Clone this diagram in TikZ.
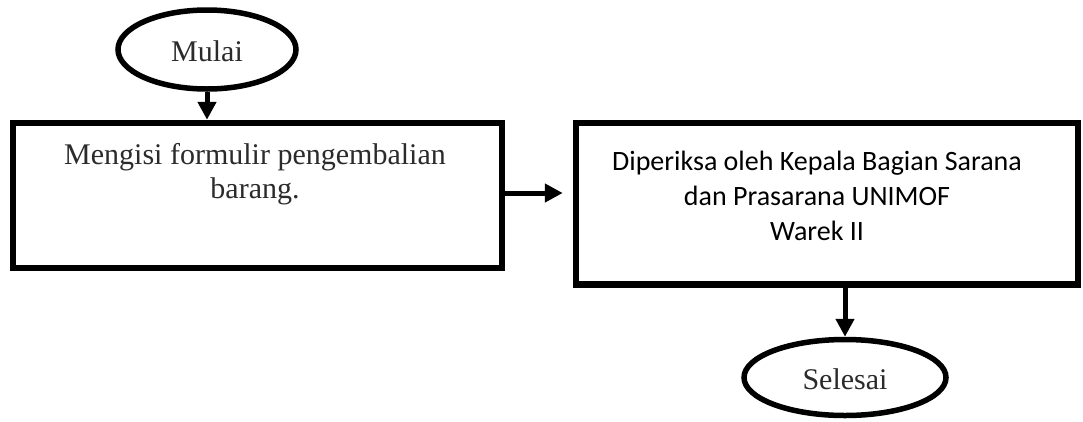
\documentclass[tikz,border=0pt]{standalone}
\usepackage{fontspec}
\setmainfont{Liberation Serif}
\newfontfamily\carlitofont{Carlito}
\usetikzlibrary{shapes.geometric,arrows.meta}
\definecolor{txtgray}{HTML}{2B2B2B}
\begin{document}
\begin{tikzpicture}[x=1pt,y=-1pt,
  ell/.style={ellipse, draw=black, line width=5.5pt, inner sep=0pt, text=txtgray,
    font=\fontsize{30}{34}\selectfont, text height=24.5pt, text depth=0pt},
  boxnode/.style={rectangle, draw=black, line width=6.5pt, inner sep=0pt},
  arr/.style={line width=5pt, -{Triangle[length=18pt,width=18pt]}},
  sertext/.style={font=\fontsize{30}{34}\selectfont, text=txtgray, inner sep=0pt, anchor=base},
  caltext/.style={font=\carlitofont\fontsize{28}{34}\selectfont, text=black, inner sep=0pt, anchor=base}]
\useasboundingbox (0,0) rectangle (1083,421);
\fill[white] (0,0) rectangle (1083,421);
% start
\node[ell, minimum width=178pt, minimum height=79pt] (start) at (207,49.5) {Mulai};
% box 1
\node[boxnode, minimum width=489pt, minimum height=145pt] (box1) at (257.5,195.5) {};
\node[sertext] (t1a) at (255,164) {Mengisi formulir pengembalian};
\node[sertext] (t1b) at (255,198) {barang.};
% box 2
\node[boxnode, minimum width=502pt, minimum height=161.5pt] (box2) at (827,203.75) {};
\node[caltext] (t2a) at (817,170) {Diperiksa oleh Kepala Bagian Sarana};
\node[caltext] (t2b) at (817,205) {dan Prasarana UNIMOF};
\node[caltext] (t2c) at (817,240) {Warek II};
% end
\node[ell, minimum width=202pt, minimum height=76pt] (end) at (845,377.5) {Selesai};
% connectors
\draw[arr] (start.south) -- (start.south |- box1.north);
\draw[arr, shorten >=10pt] ([yshift=2.5pt]box1.east) -- ([yshift=2.5pt]box1.east -| box2.west);
\draw[arr] (end.north |- box2.south) -- (end.north);
\end{tikzpicture}
\end{document}
